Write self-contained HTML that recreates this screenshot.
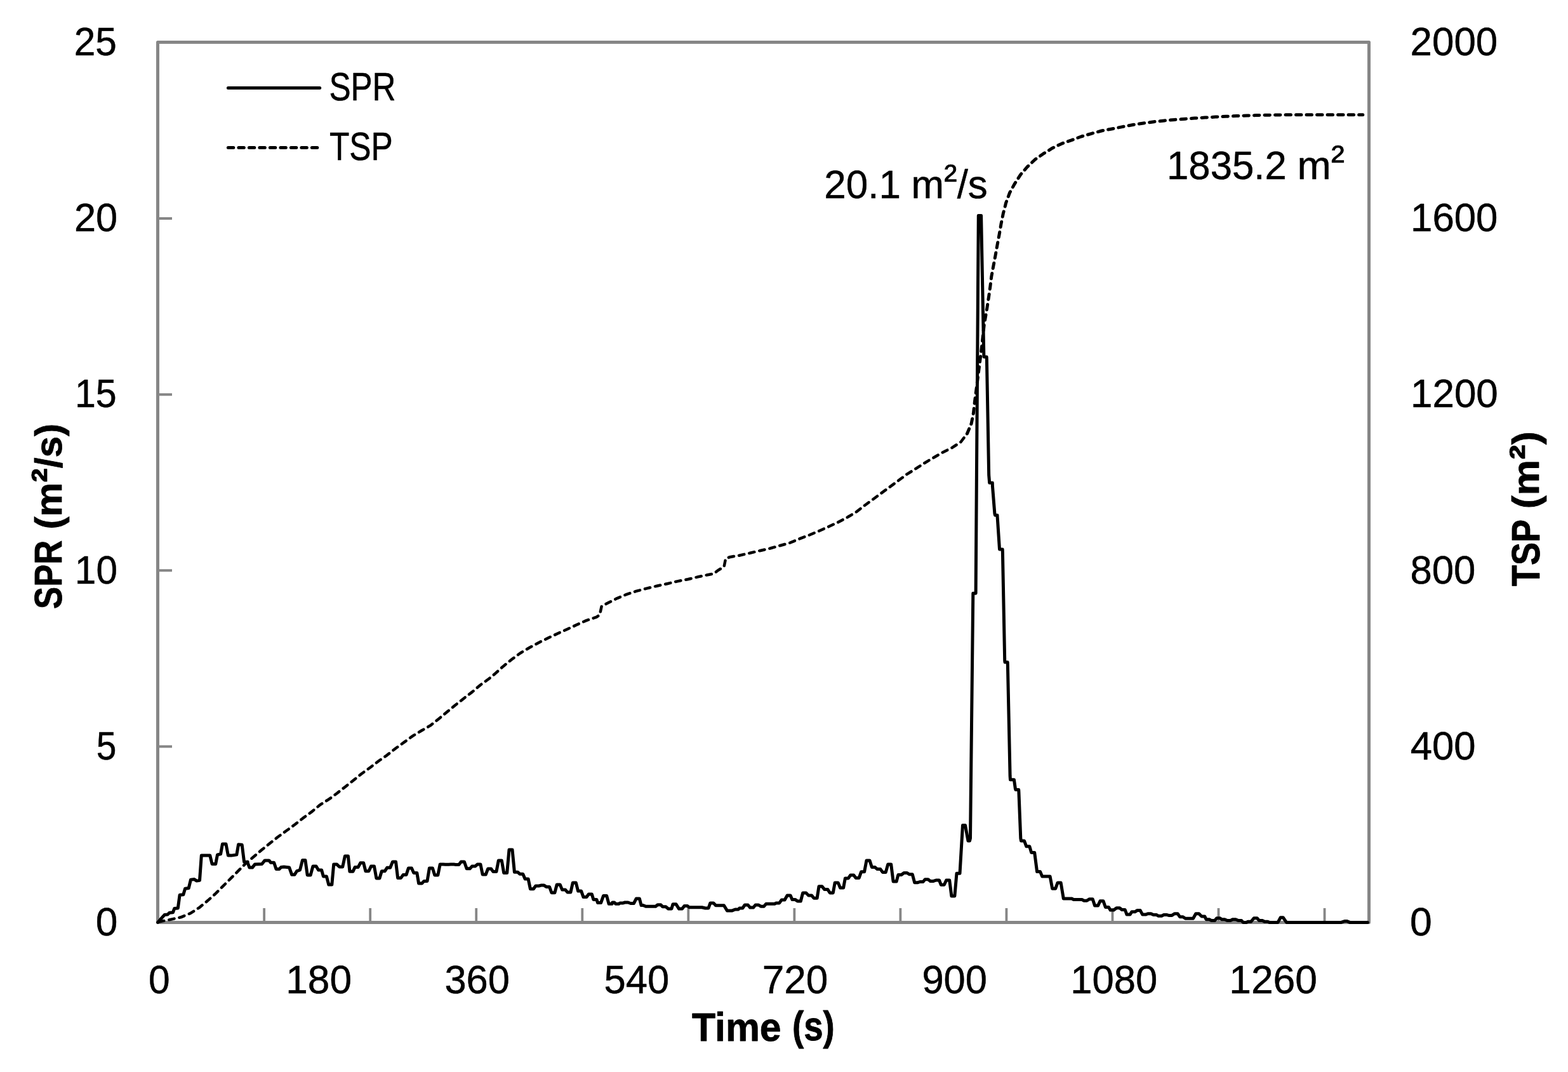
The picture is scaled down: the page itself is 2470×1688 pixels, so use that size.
<!DOCTYPE html>
<html lang="en">
<head>
<meta charset="utf-8">
<title>SPR and TSP versus time</title>
<style>
html,body{margin:0;padding:0;background:#fff;}
body{width:2470px;height:1688px;overflow:hidden;}
svg{display:block;}
text{font-family:"Liberation Sans", Arial, Helvetica, sans-serif;fill:#000;stroke:#000;stroke-width:0.8px;stroke-linejoin:round;white-space:pre;}
text[font-weight=bold]{stroke-width:1.3px;}
</style>
</head>
<body>
<svg xmlns="http://www.w3.org/2000/svg" width="2470" height="1688" viewBox="0 0 2470 1688">
<rect x="0" y="0" width="2470" height="1688" fill="#fff"/>
<g id="axes" fill="#868686" stroke="none">
<path d="M250 1173.55h21v4h-21zM250 896.35h21v4h-21zM250 619.15h21v4h-21zM250 341.95h21v4h-21zM414.24 1430h3.8v21h-3.8zM581.28 1430h3.8v21h-3.8zM748.32 1430h3.8v21h-3.8zM915.36 1430h3.8v21h-3.8zM1082.40 1430h3.8v21h-3.8zM1249.44 1430h3.8v21h-3.8zM1416.48 1430h3.8v21h-3.8zM1583.52 1430h3.8v21h-3.8zM1750.56 1430h3.8v21h-3.8zM1917.60 1430h3.8v21h-3.8zM2084.64 1430h3.8v21h-3.8z"/>
<rect x="248.5" y="66.5" width="1908.0" height="1386.0" fill="none" stroke="#868686" stroke-width="5.0" stroke-linejoin="round"/>
</g>
<g id="series" fill="none" stroke="#000" stroke-linejoin="round" stroke-linecap="round">
<path id="tsp" d="M248.7 1451.8L267.5 1448.1L284.9 1444.3L299.9 1438.1L313.6 1429.4L327.3 1418.1L339.8 1406.9L352.3 1394.4L364.8 1381.9L376 1370.7L387.2 1359.5L399.7 1349L412.2 1338.3L424.7 1328.3L437.2 1318.3L450.9 1308.3L464.6 1298.3L477.1 1288.4L490.8 1278.4L504.5 1267.1L518.3 1258.4L530.7 1249.2L544.5 1238.4L557 1228.5L569.4 1218.5L583.2 1208.5L596.9 1198L609.4 1189.3L623.1 1178.5L636.8 1168.6L650.5 1158.6L664.3 1150.3L678 1142.4L690.5 1132.4L704.2 1121.1L716.7 1110.7L730.4 1099.9L744.1 1089.4L756.6 1078.7L770.3 1068.7L780 1060.7L792.5 1049.4L806.2 1038.2L819.9 1028.2L833.7 1020L848.6 1012L863.6 1004.5L878.6 997.5L893.6 990.8L908.5 983.8L923.5 977.1L939.7 971.6L944.7 968.3L947.7 954.6L958.4 949.1L972.2 942.1L987.1 935.9L1002.1 930.9L1018.3 926.6L1034.6 922.7L1050.8 919.2L1067 915.4L1083.2 912.2L1099.4 908.4L1114.4 905.2L1124.4 903.4L1130.6 898.4L1140.6 892.2L1143.1 879.7L1149.4 877.2L1164.3 874.7L1180.6 871L1196.8 867.2L1213 863.5L1229.2 859L1244.2 854.8L1259.2 848.5L1275.4 842.3L1290.4 836L1305.3 829.3L1320.3 822.3L1335.3 814.3L1349 806.1L1360 797.4L1415 756.9L1428.4 746.9L1441.7 738.6L1455.9 729.4L1470.1 721L1484.3 712.7L1499.3 705.2L1513.5 696L1520.98 686.05" stroke-width="4.5" stroke-dasharray="8.4 8.12" stroke-dashoffset="-1.38"/>
<path id="tsp-tail" d="M1520.98 686.05L1523.5 682.7L1530.2 666.8L1533.5 650.1L1535.5 631.8L1537.7 615.1L1546 550.4L1550.2 512L1554.9 484.7L1557.3 469.1L1559.8 451.7L1561.8 435.4L1564.9 418.6L1568 402.4L1571 385.6L1574.1 369.3L1576.9 353.1L1580.3 336.2L1583.7 323.4L1584.4 320.1L1590.4 303.8L1598.4 289.3L1607.4 275.3L1618.1 262.9L1630.4 251.2L1643.3 242.2L1657.8 233.2L1673 225.9L1687.5 220.9L1703.2 215L1719.5 210.3L1735.2 206L1751.4 203L1768.2 199.6L1784.7 196.5L1801.2 194L1817.7 191.7L1834.2 189.9L1850.8 188.4L1867.3 187.2L1881.7 186.1L1898.3 185.1L1914.8 184.1L1931.3 183.3L1947.8 182.6L1964.4 182L1978.8 181.6L1995.3 181.2L2011.9 181L2030.4 180.8L2146.8 180.8" stroke-width="5" stroke-dasharray="8.4 8.12" stroke-dashoffset="12.6"/>
<path id="spr" d="M248.6 1452.4L259.1 1440.6L264.1 1440.1L266.9 1437.3L272.5 1436.7L274.7 1430.6L280.3 1430L283.1 1409.3L288.8 1408.7L291.6 1399.2L297.2 1398.6L300.5 1385.2L306.1 1384.6L309.5 1386.9L314.5 1386.3L317.3 1347.1L330.8 1347.1L334.1 1360.5L339.7 1360.5L342.5 1345.9L347.6 1344.8L350.4 1329.1L356 1329.1L359.4 1347.1L364.4 1347.1L372.8 1345.9L375.6 1329.7L381.2 1330.3L384.6 1357.2L389.6 1357.2L393 1366.1L397.5 1366.1L401.4 1361.1L412.6 1360.5L417.1 1354.9L423.8 1354.9L426.6 1358.3L431.6 1358.3L435 1368.4L440 1368.4L442.8 1365.6L447.3 1365L455.7 1366.1L459.7 1377.3L464.1 1377.3L467.5 1371.7L472.5 1370L476.5 1354.4L480.9 1354.4L484.2 1377.9L489.2 1377.9L493 1363.9L498 1363.9L501.6 1370L506.6 1370L509.4 1380.1L514.4 1380.1L517.8 1393L522.8 1393L525.7 1361.1L530.7 1361.1L534.7 1365L539.7 1365L543.4 1348L548.4 1348L550.9 1372.3L555.9 1372.3L559.1 1365.6L564.1 1365.6L567.7 1358.8L572.7 1358.8L575.9 1371.7L580.9 1371.7L584.5 1364.1L589.5 1364.1L592.9 1382.9L597.9 1382.9L601.3 1371.7L606.3 1371.7L609.7 1366.3L614.7 1366.3L618.5 1356.9L623.5 1356.9L626.6 1382.4L631.6 1382.4L635 1377.6L640 1377.6L643.4 1366.9L648.4 1366.9L651.8 1374.5L656.8 1374.5L659.6 1391L664.6 1391L668 1387.4L673 1387.4L676.4 1366.9L681.4 1366.9L684.8 1377.9L689.8 1377.9L693.2 1361.1L698.2 1361.1L701.6 1361.3L706.6 1361.3L710 1361.1L715 1361.1L717.9 1361.4L722.9 1361.4L726.3 1356.9L731.3 1356.9L735.2 1367.8L740.2 1367.8L743.5 1364.1L748.5 1364.1L751.9 1361.1L756.9 1361.1L760.2 1377.1L765.2 1377.1L768.6 1368L773.6 1368L776.9 1372.6L781.9 1372.6L785.3 1355.1L790.3 1355.1L793.7 1374.5L798.7 1374.5L802 1338.1L807 1338.1L810.4 1373.2L815.4 1373.2L818.7 1376.2L823.7 1376.2L827.1 1384.1L832.1 1384.1L835.4 1399.7L840.4 1399.7L843.8 1395L848.8 1395L852.1 1394.1L857.1 1394.1L860.5 1396.4L865.5 1396.4L868.9 1405.7L873.9 1405.7L877.2 1393L882.2 1393L885.6 1401.1L890.6 1401.1L893.9 1405L898.9 1405L902.3 1390L907.3 1390L910.6 1403.1L915.6 1403.1L919 1412.6L924 1412.6L927.3 1408.1L932.3 1408.1L934.9 1416.6L939.9 1416.6L941.6 1421.6L946.6 1421.6L950.6 1410.4L955.6 1410.4L959.1 1423.3L964.1 1423.3L964.7 1421L967.7 1421L969.8 1423.3L974.8 1423.3L976.6 1421.9L981.6 1421.9L984.4 1421L989.4 1421L993.4 1422.5L998.4 1422.5L1002.3 1414.9L1007.3 1414.9L1010.1 1425.5L1013.1 1425.5L1017.2 1427.2L1032.8 1427.2L1035.9 1424.7L1040.9 1424.7L1043.8 1427.8L1048.8 1427.8L1052.8 1431.1L1057.8 1431.1L1060 1423.8L1065 1423.8L1069.6 1431.1L1074.6 1431.1L1078 1426.6L1083 1426.6L1085.5 1428.7L1105.7 1428.7L1111 1430L1116 1430L1118.9 1421.9L1123.9 1421.9L1127.5 1425.7L1140.4 1425.7L1145.4 1433.9L1153.4 1433.9L1158.1 1432L1163.1 1432L1164.8 1430L1169.8 1430L1173.2 1425L1178.2 1425L1181.6 1429.1L1186.6 1429.1L1190 1425L1195 1425L1198.4 1427.2L1203.4 1427.2L1206.7 1423.3L1220.2 1423.3L1222.7 1421.9L1227.7 1421.9L1231.1 1417.1L1236.1 1417.1L1240.1 1410.1L1245.1 1410.1L1247.9 1416.6L1252.9 1416.6L1256.3 1419L1261.3 1419L1264.7 1405.9L1269.7 1405.9L1273.7 1410.1L1278.7 1410.1L1282.1 1414.3L1287.1 1414.3L1290 1395.8L1295 1395.8L1298.9 1400.6L1303.9 1400.6L1307.3 1405.9L1312.3 1405.9L1315.2 1389.9L1320.2 1389.9L1323.6 1398.1L1328.6 1398.1L1331.4 1382.9L1336.4 1382.9L1339.8 1377.9L1344.8 1377.9L1348.2 1382.4L1353.2 1382.4L1356.6 1372.8L1361.6 1372.8L1365 1354.9L1370 1354.9L1373.4 1365.6L1378.4 1365.6L1381.9 1368.6L1386.9 1368.6L1390.3 1373.4L1395.3 1373.4L1398.7 1361.1L1403.7 1361.1L1407.1 1388L1412.1 1388L1414.9 1377.6L1419.9 1377.6L1423.9 1374.5L1428.9 1374.5L1432.3 1376.8L1437.3 1376.8L1440.7 1389.7L1445.7 1389.7L1449.1 1388.5L1454.1 1388.5L1457.1 1384.8L1462.1 1384.8L1465.5 1387.4L1470.5 1387.4L1474.5 1386L1479.5 1386L1482.3 1393.2L1487.3 1393.2L1490.7 1386L1495.7 1386L1498.9 1410.9L1503.9 1410.9L1507 1375.3L1512 1375.3L1516.5 1299.5L1520.5 1299.5L1525 1324L1527.5 1324L1528.5 1320L1532.8 934.3L1537.1 934.3L1541.3 339.5L1545.6 339.5L1549.8 559L1549.9 562L1554.2 562L1554.4 566L1557.7 748L1558.7 760.3L1563.3 760.3L1563.4 765L1566.9 808.7L1567.5 811.2L1571 811.2L1571.2 815L1574.4 863L1574.6 865.1L1579.2 865.1L1579.4 870L1582.7 1040L1583 1042.8L1587.2 1042.8L1587.4 1048L1591.1 1222L1591.5 1227.7L1597.4 1227.7L1599.4 1241.9L1600 1243.6L1604.7 1243.6L1604.9 1247L1607.8 1320L1608.5 1324.1L1613.5 1324.1L1616.8 1332.8L1621.8 1332.8L1624.7 1342.6L1629.7 1342.6L1633.6 1372.6L1638.6 1372.6L1641.7 1380.1L1654.1 1380.1L1657.7 1399.2L1662.7 1399.2L1666.1 1389.9L1671.1 1389.9L1675.3 1415.1L1688.8 1415.1L1691.2 1416.6L1704.7 1416.6L1707.2 1418.2L1712.2 1418.2L1716.2 1415.7L1721.2 1415.7L1724.6 1426.1L1729.6 1426.1L1733 1418.8L1738 1418.8L1741.4 1428.5L1746.4 1428.5L1749.2 1433.1L1754.2 1433.1L1758.8 1429.8L1763.8 1429.8L1767.2 1432.5L1772.2 1432.5L1775 1440.1L1780 1440.1L1782.8 1435.8L1787.8 1435.8L1791.2 1433.6L1796.2 1433.6L1799.7 1440.1L1804.7 1440.1L1808.1 1438.7L1813.1 1438.7L1817 1440.6L1822 1440.6L1824.9 1442.3L1829.9 1442.3L1833.3 1440.6L1838.3 1440.6L1841.1 1441.4L1846.1 1441.4L1850.1 1438.7L1855.1 1438.7L1858.5 1443.7L1863.5 1443.7L1867.2 1446.2L1879.5 1446.2L1883.7 1438.7L1888.7 1438.7L1892.7 1442.9L1897.7 1442.9L1900 1447.7L1905 1447.7L1908.4 1449.6L1913.4 1449.6L1916.8 1445.7L1921.8 1445.7L1924.2 1447.7L1929.2 1447.7L1933.2 1449.6L1938.2 1449.6L1941.6 1447.7L1946.6 1447.7L1950.6 1449.6L1955.6 1449.6L1958.4 1452.4L1963.4 1452.4L1965.7 1451.3L1970.7 1451.3L1975.2 1445.7L1980.2 1445.7L1983.6 1449.6L1988.6 1449.6L1992 1451.3L1997 1451.3L1999.6 1452.4L2013 1452.4L2017.2 1444.8L2021.2 1444.8L2026.5 1452.4L2112.8 1452.4L2118 1450.5L2122 1450.5L2126.2 1452.4L2154.4 1452.4" stroke-width="5.0"/>
</g>
<g id="legend" fill="none" stroke="#000" stroke-width="5" stroke-linecap="round">
<path d="M359.4 138.5H503.7"/>
<path d="M359.4 232.5H500" stroke-dasharray="8.4 8.1"/>
</g>
<g id="labels">
<text transform="translate(150.71 1473.05) scale(0.6220 0.6370)" font-size="100">0</text>
<text transform="translate(151.73 1195.85) scale(0.5684 0.6370)" font-size="100">5</text>
<text transform="translate(117.87 918.65) scale(0.6035 0.6370)" font-size="100">10</text>
<text transform="translate(117.97 641.45) scale(0.5910 0.6370)" font-size="100">15</text>
<text transform="translate(116.93 364.25) scale(0.6132 0.6370)" font-size="100">20</text>
<text transform="translate(116.78 87.05) scale(0.6039 0.6370)" font-size="100">25</text>
<text transform="translate(2220.95 1473.05) scale(0.6251 0.6370)" font-size="100">0</text>
<text transform="translate(2221.66 1195.85) scale(0.6168 0.6370)" font-size="100">400</text>
<text transform="translate(2221.38 918.65) scale(0.6167 0.6370)" font-size="100">800</text>
<text transform="translate(2221.95 641.45) scale(0.6199 0.6370)" font-size="100">1200</text>
<text transform="translate(2222.07 364.25) scale(0.6175 0.6370)" font-size="100">1600</text>
<text transform="translate(2221.61 87.05) scale(0.6187 0.6370)" font-size="100">2000</text>
<text transform="translate(233.88 1563.90) scale(0.6052 0.6370)" font-size="100">0</text>
<text transform="translate(450.24 1563.90) scale(0.6219 0.6370)" font-size="100">180</text>
<text transform="translate(700.50 1563.90) scale(0.6135 0.6370)" font-size="100">360</text>
<text transform="translate(951.59 1563.90) scale(0.6152 0.6370)" font-size="100">540</text>
<text transform="translate(1200.74 1563.90) scale(0.6212 0.6370)" font-size="100">720</text>
<text transform="translate(1452.38 1563.90) scale(0.6148 0.6370)" font-size="100">900</text>
<text transform="translate(1686.34 1563.90) scale(0.6155 0.6370)" font-size="100">1080</text>
<text transform="translate(1936.27 1563.90) scale(0.6237 0.6370)" font-size="100">1260</text>
<text transform="translate(1298.35 311.90) scale(0.6203 0.6370)" font-size="100">20.1</text>
<text transform="translate(1435.52 311.90) scale(0.6187 0.6370)" font-size="100">m<tspan dy='-12'>²</tspan><tspan dy='12'>/s</tspan></text>
<text transform="translate(1838.07 281.90) scale(0.6167 0.6370)" font-size="100">1835.2</text>
<text transform="translate(2043.38 281.90) scale(0.6398 0.6370)" font-size="100">m<tspan dy='-12'>²</tspan></text>
<text transform="translate(518.40 157.90) scale(0.5115 0.6360)" font-size="100">SPR</text>
<text transform="translate(518.94 251.70) scale(0.5139 0.6360)" font-size="100">TSP</text>
<text transform="translate(1090.09 1639.30) scale(0.6068 0.6300)" font-size="100" font-weight="bold">Time</text>
<text transform="translate(1247.97 1638.09) scale(0.5470 0.6413)" font-size="100" font-weight="bold">(s)</text>
<text transform="translate(97.29 958.88) rotate(-90) scale(0.5257 0.6106)" font-size="100" font-weight="bold">SPR</text>
<text transform="translate(97.20 833.51) rotate(-90) scale(0.6028 0.5975)" font-size="100" font-weight="bold">(m<tspan font-size='112'>²</tspan>/s)</text>
<text transform="translate(2424.98 923.04) rotate(-90) scale(0.5400 0.6247)" font-size="100" font-weight="bold">TSP</text>
<text transform="translate(2423.94 801.27) rotate(-90) scale(0.6337 0.5954)" font-size="100" font-weight="bold">(m<tspan font-size='112'>²</tspan>)</text>
</g>
</svg>
</body>
</html>
